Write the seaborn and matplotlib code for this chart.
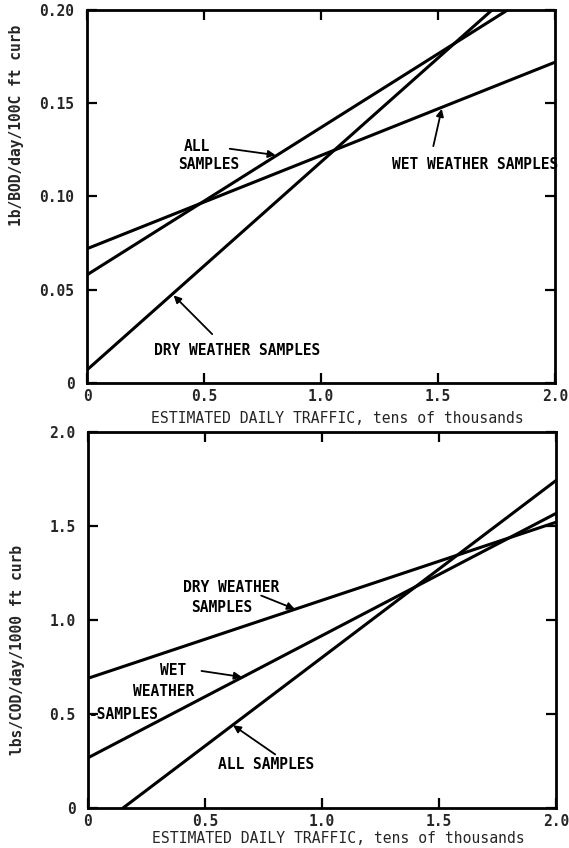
import matplotlib
matplotlib.use("Agg")
import matplotlib.pyplot as plt
import seaborn as sns
import pandas as pd

# Regression lines: loading vs. estimated daily traffic (tens of thousands)
traffic = [0.0, 2.0]

# BOD loading, lb/day/1000 ft curb, at traffic = 0 and traffic = 2.0
bod_wet = [0.072, 0.172]
bod_all = [0.058, 0.216]
bod_dry = [0.007, 0.230]

# COD loading, lbs/day/1000 ft curb, at traffic = 0 and traffic = 2.0
cod_dry = [0.69, 1.52]
cod_wet = [0.267, 1.567]
cod_all = [-0.141, 1.742]

x_ticks = [0, 0.5, 1.0, 1.5, 2.0]
x_ticklabels = ["0", "0.5", "1.0", "1.5", "2.0"]
bod_ticks = [0, 0.05, 0.10, 0.15, 0.20]
bod_ticklabels = ["0", "0.05", "0.10", "0.15", "0.20"]
cod_ticks = [0, 0.5, 1.0, 1.5, 2.0]
cod_ticklabels = ["0", "0.5", "1.0", "1.5", "2.0"]

x_label = "ESTIMATED DAILY TRAFFIC, tens of thousands"
bod_label = "1b/BOD/day/100C ft curb"
cod_label = "lbs/COD/day/1000 ft curb"

sns.set_theme(style="white")
plt.rcParams["font.family"] = ["DejaVu Sans Mono", "DejaVu Sans"]
plt.rcParams["axes.linewidth"] = 2.0

W, H = 569, 848
fig = plt.figure(figsize=(W / 100, H / 100), dpi=100)


def frame(series):
    rows = []
    for name, vals in series.items():
        for x, y in zip(traffic, vals):
            rows.append({"traffic": x, "load": y, "series": name})
    return pd.DataFrame(rows)


def style_axes(ax, yticks, yticklabels, ylim, ylabel, ylabel_pos, xlabel_y):
    ax.set_xlim(0, 2.0)
    ax.set_ylim(*ylim)
    ax.set_xticks(x_ticks)
    ax.set_xticklabels(x_ticklabels, fontsize=10.5, fontweight="bold")
    ax.set_yticks(yticks)
    ax.set_yticklabels(yticklabels, fontsize=10.5, fontweight="bold")
    ax.tick_params(axis="both", direction="in", length=7, width=1.6,
                   top=True, right=True, bottom=True, left=True, color="black")
    ax.tick_params(axis="y", pad=9)
    ax.tick_params(axis="x", pad=4)
    for s in ax.spines.values():
        s.set_color("black")
        s.set_linewidth(2.0)
    ax.set_xlabel(x_label, fontsize=10.6)
    ax.xaxis.set_label_coords(0.535, xlabel_y)
    ax.set_ylabel(ylabel, fontsize=10.5, fontweight="bold")
    ax.yaxis.set_label_coords(-0.135, ylabel_pos)


def arrow(ax, tail, head):
    ax.annotate("", xy=head, xytext=tail,
                arrowprops=dict(arrowstyle="-|>", color="black", lw=1.3,
                                mutation_scale=11, shrinkA=0, shrinkB=0))


txt = dict(fontsize=10.5, fontweight="bold", ha="center", va="center", color="black")

# ---- BOD panel ----
ax1 = fig.add_axes([87 / W, 1 - 383 / H, 468 / W, 373 / H])
df1 = frame({"WET": bod_wet, "ALL": bod_all, "DRY": bod_dry})
sns.lineplot(data=df1, x="traffic", y="load", hue="series",
             palette=["black"] * 3, linewidth=2.2, legend=False, ax=ax1)
style_axes(ax1, bod_ticks, bod_ticklabels, (0, 0.20), bod_label, 0.69, -0.075)

ax1.text(0.47, 0.127, "ALL", **txt)
ax1.text(0.52, 0.117, "SAMPLES", **txt)
arrow(ax1, (0.61, 0.1256), (0.806, 0.1222))
ax1.text(1.66, 0.117, "WET WEATHER SAMPLES", **txt)
arrow(ax1, (1.48, 0.127), (1.516, 0.147))
ax1.text(0.64, 0.0172, "DRY WEATHER SAMPLES", **txt)
arrow(ax1, (0.535, 0.0262), (0.37, 0.047))

# ---- COD panel ----
ax2 = fig.add_axes([88 / W, 1 - 808 / H, 468 / W, 376 / H])
df2 = frame({"DRY": cod_dry, "WET": cod_wet, "ALL": cod_all})
sns.lineplot(data=df2, x="traffic", y="load", hue="series",
             palette=["black"] * 3, linewidth=2.2, legend=False, ax=ax2)
style_axes(ax2, cod_ticks, cod_ticklabels, (0, 2.0), cod_label, 0.42, -0.06)

ax2.text(0.61, 1.175, "DRY WEATHER", **txt)
ax2.text(0.57, 1.065, "SAMPLES", **txt)
arrow(ax2, (0.74, 1.13), (0.884, 1.058))
ax2.text(0.363, 0.729, "WET", **txt)
ax2.text(0.325, 0.622, "WEATHER", **txt)
ax2.text(0.155, 0.498, "-SAMPLES", **txt)
arrow(ax2, (0.485, 0.729), (0.657, 0.697))
ax2.text(0.76, 0.231, "ALL SAMPLES", **txt)
arrow(ax2, (0.80, 0.285), (0.62, 0.44))

fig.savefig("out.png", dpi=100, facecolor="white")
